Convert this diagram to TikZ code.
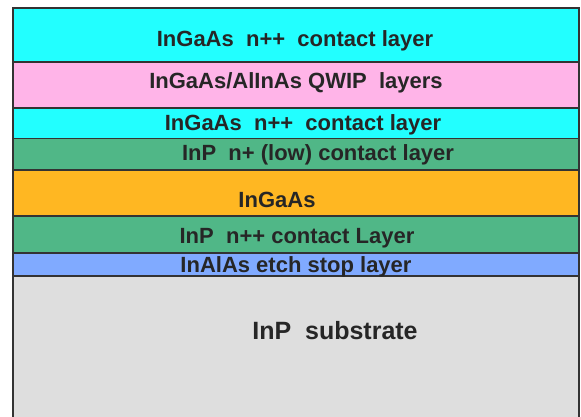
\documentclass[tikz,border=0pt]{standalone}
\usepackage{fontspec}
\setmainfont{Liberation Sans}
\usepackage{tikz}
\definecolor{capcyan}{HTML}{22FFFF}
\definecolor{qwippink}{HTML}{FFB4E8}
\definecolor{inpgreen}{HTML}{50B787}
\definecolor{absorange}{HTML}{FFB722}
\definecolor{stopblue}{HTML}{80AAFF}
\definecolor{subgrey}{HTML}{DEDEDE}
\definecolor{edgegrey}{HTML}{333333}
\tikzset{
  layer/.style={draw=edgegrey, line width=1.3pt},
  lbl/.style={text=black!85, font=\bfseries\fontsize{22}{24}\selectfont, inner sep=0pt}
}

\begin{document}
\begin{tikzpicture}[x=1pt, y=1pt]
			%%%%% START %%%%%
			\useasboundingbox (0, 0) rectangle (581, 416);
			
			% substrate runs off the bottom
			\fill[subgrey] (13, -2) rectangle (579, 140);
			\draw[layer] (13, -2) -- (13, 140);
			\draw[layer] (579, -2) -- (579, 140);
			
			\draw[layer, fill=stopblue] (13, 140) rectangle (579, 163);
			\draw[layer, fill=inpgreen] (13, 163) rectangle (579, 200);
			\draw[layer, fill=absorange] (13, 200) rectangle (579, 246);
			\draw[layer, fill=inpgreen] (13, 246) rectangle (579, 277.5);
			\draw[layer, fill=capcyan] (13, 277.5) rectangle (579, 308);
			\draw[layer, fill=qwippink] (13, 308) rectangle (579, 354);
			\draw[layer, fill=capcyan] (13, 354) rectangle (579, 408);
			
			\node[lbl] (topcap) at (295, 375) {InGaAs\ \ n++\ \ contact layer};
			\node[lbl] (qwip) at (296, 333) {InGaAs/AlInAs QWIP\ \ layers};
			\node[lbl] (lowcap) at (303, 291) {InGaAs\ \ n++\ \ contact layer};
			\node[lbl] (lowinp) at (318, 261) {InP\ \ n+ (low) contact layer};
			\node[lbl] (absorb) at (277, 216.5) {InGaAs};
			\node[lbl] (botinp) at (297, 177.5) {InP\ \ n++ contact Layer};
			\node[lbl] (etch) at (296, 149.5) {InAlAs etch stop layer};
			\node[lbl, font=\bfseries\fontsize{25}{27}\selectfont] (sub) at (335, 85.5) {InP\ \ substrate};
			%%%%% END %%%%%
		\end{tikzpicture}
\end{document}
